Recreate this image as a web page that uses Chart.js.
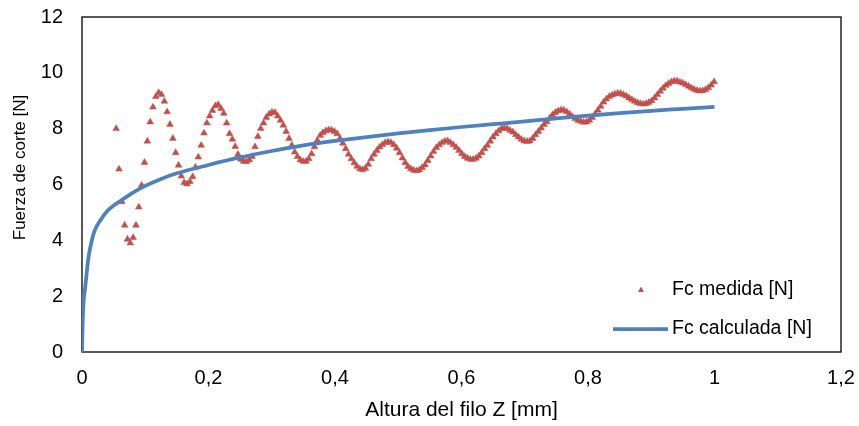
<!DOCTYPE html>
<html>
<head>
<meta charset="utf-8">
<script src="https://cdn.jsdelivr.net/npm/chart.js@4"></script>
<style>
  html, body { margin: 0; padding: 0; background: #fff; }
  #wrap { width: 859px; height: 426px; }
</style>
</head>
<body>
<div id="wrap"><canvas id="fc-chart" width="859" height="426"></canvas></div>
<script>
// measured cutting force (triangles)
const zMedida = [
  0.054, 0.0585, 0.063, 0.0674, 0.0719, 0.0764, 0.0809, 0.0854, 0.0898, 0.0943,
  0.0988, 0.1033, 0.1078, 0.1122, 0.1167, 0.1212, 0.1257, 0.1302, 0.1346, 0.1391,
  0.1436, 0.1481, 0.1526, 0.157, 0.1615, 0.166, 0.1705, 0.175, 0.1794, 0.1839,
  0.1884, 0.1929, 0.1974, 0.2018, 0.2063, 0.2108, 0.2153, 0.2198, 0.2242, 0.2287,
  0.2332, 0.2377, 0.2422, 0.2466, 0.2511, 0.2556, 0.2601, 0.2646, 0.269, 0.2735,
  0.278, 0.2825, 0.287, 0.2914, 0.2959, 0.3004, 0.3049, 0.3094, 0.3138, 0.3183,
  0.3228, 0.3273, 0.3318, 0.3362, 0.3407, 0.3452, 0.3497, 0.3542, 0.3586, 0.3631,
  0.3676, 0.3721, 0.3766, 0.381, 0.3855, 0.39, 0.3945, 0.399, 0.4034, 0.4079,
  0.4124, 0.4169, 0.4214, 0.4258, 0.4303, 0.4348, 0.4393, 0.4438, 0.4482, 0.4527,
  0.4572, 0.4617, 0.4662, 0.4706, 0.4751, 0.4796, 0.4841, 0.4886, 0.493, 0.4975,
  0.502, 0.5065, 0.511, 0.5154, 0.5199, 0.5244, 0.5289, 0.5334, 0.5378, 0.5423,
  0.5468, 0.5513, 0.5558, 0.5602, 0.5647, 0.5692, 0.5737, 0.5782, 0.5826, 0.5871,
  0.5916, 0.5961, 0.6006, 0.605, 0.6095, 0.614, 0.6185, 0.623, 0.6274, 0.6319,
  0.6364, 0.6409, 0.6454, 0.6498, 0.6543, 0.6588, 0.6633, 0.6678, 0.6722, 0.6767,
  0.6812, 0.6857, 0.6902, 0.6946, 0.6991, 0.7036, 0.7081, 0.7126, 0.717, 0.7215,
  0.726, 0.7305, 0.735, 0.7394, 0.7439, 0.7484, 0.7529, 0.7574, 0.7618, 0.7663,
  0.7708, 0.7753, 0.7798, 0.7842, 0.7887, 0.7932, 0.7977, 0.8022, 0.8066, 0.8111,
  0.8156, 0.8201, 0.8246, 0.829, 0.8335, 0.838, 0.8425, 0.847, 0.8514, 0.8559,
  0.8604, 0.8649, 0.8694, 0.8738, 0.8783, 0.8828, 0.8873, 0.8918, 0.8962, 0.9007,
  0.9052, 0.9097, 0.9142, 0.9186, 0.9231, 0.9276, 0.9321, 0.9366, 0.941, 0.9455,
  0.95, 0.9545, 0.959, 0.9634, 0.9679, 0.9724, 0.9769, 0.9814, 0.9858, 0.9903,
  0.9948, 0.9993
];
const fMedida = [
  8.0, 6.55, 5.38, 4.54, 4.04, 3.9, 4.1, 4.54, 5.19, 5.97,
  6.79, 7.55, 8.24, 8.77, 9.15, 9.29, 9.22, 8.98, 8.6, 8.15,
  7.65, 7.14, 6.69, 6.3, 6.07, 6.02, 6.1, 6.28, 6.62, 6.98,
  7.4, 7.84, 8.2, 8.45, 8.65, 8.82, 8.86, 8.72, 8.55, 8.2,
  7.82, 7.62, 7.36, 7.08, 6.9, 6.83, 6.82, 6.88, 7.0, 7.35,
  7.72, 8.0, 8.2, 8.4, 8.52, 8.59, 8.58, 8.45, 8.3, 8.12,
  7.9, 7.65, 7.4, 7.16, 7.0, 6.88, 6.83, 6.83, 6.92, 7.1,
  7.35, 7.58, 7.76, 7.86, 7.92, 7.96, 7.95, 7.9, 7.82, 7.65,
  7.48, 7.28, 7.08, 6.92, 6.78, 6.65, 6.56, 6.53, 6.58, 6.72,
  6.92, 7.08, 7.22, 7.34, 7.43, 7.5, 7.53, 7.5, 7.42, 7.3,
  7.14, 6.95, 6.78, 6.64, 6.56, 6.51, 6.49, 6.52, 6.6, 6.7,
  6.86, 7.02, 7.18, 7.32, 7.42, 7.5, 7.55, 7.56, 7.5, 7.42,
  7.33, 7.22, 7.1, 7.0, 6.94, 6.9, 6.9, 6.94, 7.02, 7.14,
  7.28, 7.4, 7.55, 7.7, 7.82, 7.92, 8.0, 8.02, 8.0, 7.94,
  7.88, 7.78, 7.7, 7.62, 7.56, 7.54, 7.56, 7.65, 7.78, 7.9,
  8.02, 8.15, 8.25, 8.38, 8.5, 8.58, 8.64, 8.67, 8.66, 8.6,
  8.52, 8.43, 8.36, 8.3, 8.26, 8.23, 8.24, 8.3, 8.4, 8.52,
  8.66, 8.8, 8.95, 9.06, 9.15, 9.2, 9.24, 9.27, 9.26, 9.22,
  9.17, 9.1, 9.04, 8.98, 8.93, 8.9, 8.88, 8.9, 8.94, 9.0,
  9.1, 9.22, 9.34, 9.45, 9.55, 9.62, 9.68, 9.71, 9.7, 9.67,
  9.63, 9.58, 9.52, 9.46, 9.41, 9.37, 9.35, 9.36, 9.4, 9.46,
  9.56, 9.68
];

// calculated cutting force (blue curve)
const zCalculada = [0, 0.001, 0.0025, 0.005, 0.0075, 0.01, 0.015, 0.02, 0.03, 0.04,
  0.05, 0.06, 0.08, 0.1, 0.125, 0.15, 0.2, 0.25, 0.3, 0.35, 0.4, 0.45, 0.5,
  0.55, 0.6, 0.65, 0.7, 0.75, 0.8, 0.85, 0.9, 0.95, 1.0];
const fCalculada = [0, 1.0, 1.8, 2.3, 2.85, 3.35, 3.95, 4.35, 4.75, 5.05,
  5.25, 5.4, 5.7, 5.95, 6.2, 6.4, 6.7, 6.97, 7.2, 7.4, 7.56, 7.7, 7.83,
  7.95, 8.06, 8.16, 8.26, 8.37, 8.47, 8.56, 8.64, 8.71, 8.78];

const xTicks = [0, 0.2, 0.4, 0.6, 0.8, 1, 1.2];
const yTicks = [0, 2, 4, 6, 8, 10, 12];

const redColor = '#C0504D';
const blueColor = '#4F81BD';
const fontFamily = 'Arial, "Liberation Sans", sans-serif';
const yTitle = 'Fuerza de corte [N]';

// black frame round the plot area
const plotFrame = {
  id: 'plotFrame',
  beforeDatasetsDraw(chart) {
    const { ctx, chartArea: a } = chart;
    ctx.save();
    ctx.strokeStyle = '#000';
    ctx.lineWidth = 1.3;
    ctx.strokeRect(a.left, a.top, a.right - a.left, a.bottom - a.top);
    ctx.restore();
  }
};

// y title sits a bit above the plot centre in the original
const sideTitle = {
  id: 'sideTitle',
  afterDraw(chart) {
    const { ctx, chartArea: a } = chart;
    ctx.save();
    ctx.translate(20, (a.top + a.bottom) / 2 - 17);
    ctx.rotate(-Math.PI / 2);
    ctx.font = '17px ' + fontFamily;
    ctx.fillStyle = '#000';
    ctx.textAlign = 'center';
    ctx.textBaseline = 'middle';
    ctx.fillText(yTitle, 0, 0);
    ctx.restore();
  }
};

// legend drawn inside the plot, bottom right
const innerLegend = {
  id: 'innerLegend',
  afterDraw(chart) {
    const { ctx, chartArea: a } = chart;
    const ds = chart.data.datasets;
    ctx.save();
    ctx.font = '19.5px ' + fontFamily;
    ctx.textBaseline = 'middle';
    // triangle marker
    const tx = a.right - 200, ty = a.bottom - 62;
    ctx.fillStyle = redColor;
    ctx.beginPath();
    ctx.moveTo(tx, ty - 3.5);
    ctx.lineTo(tx + 3, ty + 2);
    ctx.lineTo(tx - 3, ty + 2);
    ctx.closePath();
    ctx.fill();
    ctx.fillStyle = '#000';
    ctx.fillText(ds[1].label, a.right - 169, ty);
    // line marker
    const ly = a.bottom - 23;
    ctx.strokeStyle = blueColor;
    ctx.lineWidth = 3.75;
    ctx.beginPath();
    ctx.moveTo(a.right - 228, ly);
    ctx.lineTo(a.right - 173, ly);
    ctx.stroke();
    ctx.fillText(ds[0].label, a.right - 169, ly);
    ctx.restore();
  }
};

new Chart(document.getElementById('fc-chart'), {
  type: 'scatter',
  data: {
    datasets: [
      {
        label: 'Fc calculada [N]',
        data: zCalculada.map((z, i) => ({ x: z, y: fCalculada[i] })),
        showLine: true,
        borderColor: blueColor,
        borderWidth: 3.75,
        pointRadius: 0,
        cubicInterpolationMode: 'monotone',
        order: 0
      },
      {
        label: 'Fc medida [N]',
        data: zMedida.map((z, i) => ({ x: z, y: fMedida[i] })),
        showLine: false,
        pointStyle: 'triangle',
        pointRadius: 3.9,
        backgroundColor: redColor,
        borderColor: redColor,
        borderWidth: 0.5,
        order: 1
      }
    ]
  },
  options: {
    responsive: false,
    animation: false,
    layout: { padding: { top: 17, right: 18, left: 0, bottom: 0 } },
    plugins: {
      legend: { display: false },
      tooltip: { enabled: false }
    },
    scales: {
      x: {
        type: 'linear',
        min: 0,
        max: 1.2,
        afterBuildTicks: (s) => { s.ticks = xTicks.map(v => ({ value: v })); },
        grid: { display: false, drawTicks: false },
        border: { display: false },
        ticks: {
          padding: 14,
          color: '#000',
          font: { family: fontFamily, size: 20 },
          callback: (v) => String(Math.round(v * 10) / 10).replace('.', ',')
        },
        title: {
          display: true,
          text: 'Altura del filo Z [mm]',
          color: '#000',
          font: { family: fontFamily, size: 21 },
          padding: { top: 0, bottom: 3 }
        },
        afterFit: (s) => { s.height = 74; s.paddingLeft = 0; s.paddingRight = 0; }
      },
      y: {
        min: 0,
        max: 12,
        afterBuildTicks: (s) => { s.ticks = yTicks.map(v => ({ value: v })); },
        grid: { display: false, drawTicks: false },
        border: { display: false },
        ticks: {
          padding: 19,
          color: '#000',
          font: { family: fontFamily, size: 20 }
        },
        afterFit: (s) => { s.width = 82; s.paddingTop = 0; s.paddingBottom = 0; }
      }
    }
  },
  plugins: [plotFrame, sideTitle, innerLegend]
});
</script>
</body>
</html>
